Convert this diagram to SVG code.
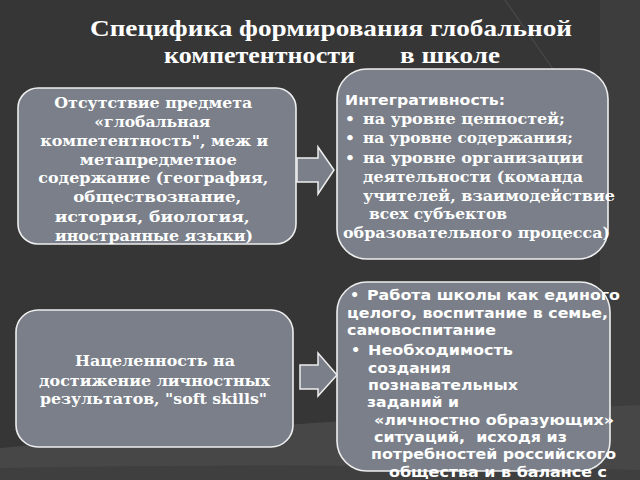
<svg xmlns="http://www.w3.org/2000/svg" width="640" height="480" viewBox="0 0 640 480">
  <defs>
    <style>
      .box { fill: #7a7f89; stroke: #eeeeee; stroke-width: 1.6; }
      .arrow { fill: #7a7f89; stroke: #eeeeee; stroke-width: 1.5; stroke-linejoin: miter; }
      .title { font-family: "Liberation Serif", "DejaVu Serif", serif; font-weight: bold; font-size: 24px; fill: #ffffff; }
      .serif { font-family: "DejaVu Serif", "Liberation Serif", serif; font-weight: bold; font-size: 15.5px; fill: #ffffff; }
      .sans { font-family: "DejaVu Sans", "Liberation Sans", sans-serif; font-weight: bold; font-size: 14.5px; fill: #ffffff; }
      .mid { text-anchor: middle; }
    </style>
  </defs>

  <!-- background -->
  <rect x="0" y="0" width="640" height="480" fill="#363636"/>
  <rect x="600" y="0" width="40" height="480" fill="#3d3d3d"/>
  <path d="M505 0 L555 72" stroke="#4a4a4a" stroke-width="1.2" fill="none"/>
  <path d="M0 448 Q 300 420 640 405 L640 480 L0 480 Z" fill="#474747"/>
  <path d="M0 468 Q 320 462 640 470 L640 480 L0 480 Z" fill="#3f3f3f"/>

  <!-- title -->
  <text class="title" x="90" y="36" textLength="482" lengthAdjust="spacingAndGlyphs">Специфика формирования глобальной</text>
  <text class="title" y="63"><tspan x="164" textLength="191" lengthAdjust="spacingAndGlyphs">компетентности</tspan><tspan x="400" textLength="100" lengthAdjust="spacingAndGlyphs">в школе</tspan></text>

  <!-- connectors -->
  <g id="connectors">
    <path class="arrow" d="M297 158 L318 158 L318 147 L334 170 L318 194 L318 182 L297 182 Z"/>
    <path class="arrow" d="M300 365 L318 365 L318 353 L337 375 L318 396 L318 389 L300 389 Z"/>
  </g>

  <!-- node 1 -->
  <g id="node-absence">
    <rect class="box" x="18" y="88" width="278" height="156" rx="20" ry="20"/>
    <text class="serif mid">
      <tspan x="156" y="108" textLength="198" lengthAdjust="spacingAndGlyphs">Отсутствие предмета</tspan>
      <tspan x="155" y="127" textLength="116" lengthAdjust="spacingAndGlyphs">«глобальная</tspan>
      <tspan x="157" y="146" textLength="228" lengthAdjust="spacingAndGlyphs">компетентность", меж и</tspan>
      <tspan x="161" y="165" textLength="157" lengthAdjust="spacingAndGlyphs">метапредметное</tspan>
      <tspan x="156" y="183" textLength="230" lengthAdjust="spacingAndGlyphs">содержание (география,</tspan>
      <tspan x="160" y="202" textLength="168" lengthAdjust="spacingAndGlyphs">обществознание,</tspan>
      <tspan x="155" y="222" textLength="195" lengthAdjust="spacingAndGlyphs">история, биология,</tspan>
      <tspan x="154" y="241" textLength="198" lengthAdjust="spacingAndGlyphs">иностранные языки)</tspan>
    </text>
  </g>

  <!-- node 2 -->
  <g id="node-integrativity">
    <rect class="box" x="337" y="69" width="271" height="190" rx="30" ry="30"/>
    <text class="sans" x="345" y="105" textLength="160" lengthAdjust="spacingAndGlyphs">Интегративность:</text>
    <text class="serif">
      <tspan x="345" y="124">•</tspan><tspan x="363" y="124" textLength="202" lengthAdjust="spacingAndGlyphs">на уровне ценностей;</tspan>
      <tspan x="345" y="143">•</tspan><tspan x="363" y="143" textLength="210" lengthAdjust="spacingAndGlyphs">на уровне содержания;</tspan>
      <tspan x="345" y="163">•</tspan><tspan x="363" y="163" textLength="220" lengthAdjust="spacingAndGlyphs">на уровне организации</tspan>
      <tspan x="363" y="182" textLength="220" lengthAdjust="spacingAndGlyphs">деятельности (команда</tspan>
      <tspan x="363" y="201" textLength="252" lengthAdjust="spacingAndGlyphs">учителей, взаимодействие</tspan>
      <tspan x="369" y="219" textLength="138" lengthAdjust="spacingAndGlyphs">всех субъектов</tspan>
      <tspan x="343" y="238" textLength="267" lengthAdjust="spacingAndGlyphs">образовательного процесса)</tspan>
    </text>
  </g>

  <!-- node 3 -->
  <g id="node-results">
    <rect class="box" x="16" y="310" width="277" height="137" rx="22" ry="22"/>
    <text class="serif">
      <tspan x="75" y="366" textLength="160" lengthAdjust="spacingAndGlyphs">Нацеленность на</tspan>
      <tspan x="39" y="386" textLength="231" lengthAdjust="spacingAndGlyphs">достижение личностных</tspan>
      <tspan x="40" y="404" textLength="227" lengthAdjust="spacingAndGlyphs">результатов, "soft skills"</tspan>
    </text>
  </g>

  <!-- node 4 -->
  <g id="node-school">
    <rect class="box" x="337" y="282" width="273" height="189" rx="30" ry="30"/>
    <text class="sans">
      <tspan x="350" y="300">•</tspan><tspan x="367" y="300" textLength="253" lengthAdjust="spacingAndGlyphs">Работа школы как единого</tspan>
      <tspan x="347" y="318" textLength="261" lengthAdjust="spacingAndGlyphs">целого, воспитание в семье,</tspan>
      <tspan x="347" y="335" textLength="149" lengthAdjust="spacingAndGlyphs">самовоспитание</tspan>
      <tspan x="351" y="355">•</tspan><tspan x="368" y="355" textLength="145" lengthAdjust="spacingAndGlyphs">Необходимость</tspan>
      <tspan x="368" y="373" textLength="83" lengthAdjust="spacingAndGlyphs">создания</tspan>
      <tspan x="368" y="390" textLength="150" lengthAdjust="spacingAndGlyphs">познавательных</tspan>
      <tspan x="367" y="407" textLength="92" lengthAdjust="spacingAndGlyphs">заданий и</tspan>
      <tspan x="374" y="425" textLength="240" lengthAdjust="spacingAndGlyphs">«личностно образующих»</tspan>
      <tspan x="374" y="442" textLength="193" lengthAdjust="spacingAndGlyphs" xml:space="preserve">ситуаций,  исходя из</tspan>
      <tspan x="371" y="459" textLength="245" lengthAdjust="spacingAndGlyphs">потребностей российского</tspan>
      <tspan x="389" y="477" textLength="218" lengthAdjust="spacingAndGlyphs">общества и в балансе с</tspan>
    </text>
  </g>
</svg>
